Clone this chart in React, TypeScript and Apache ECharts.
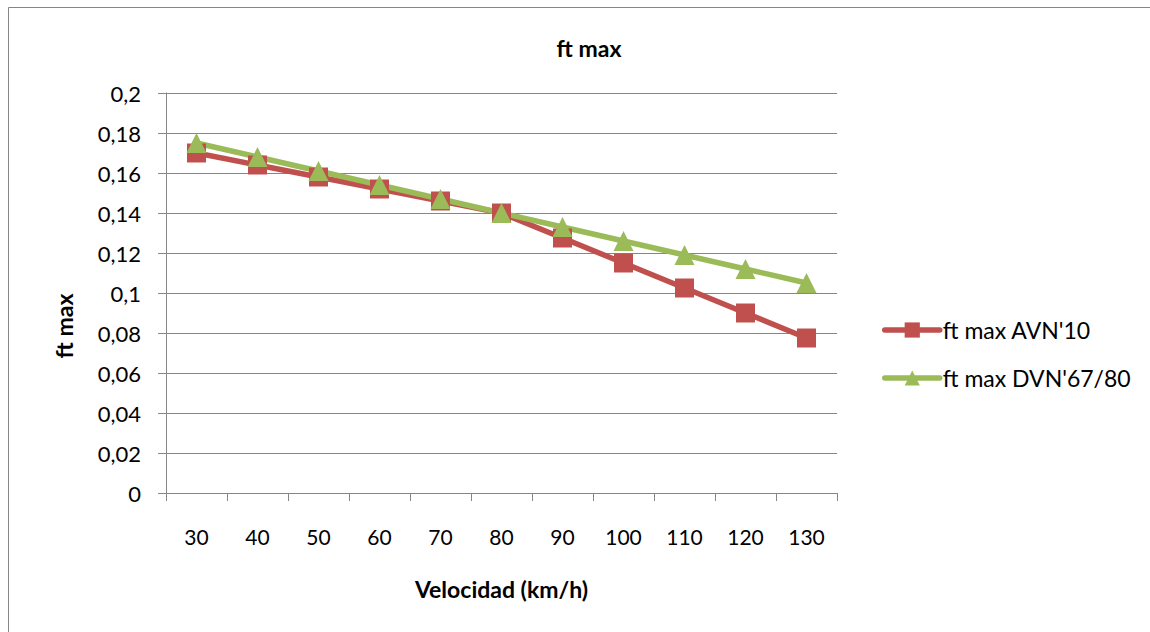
import React, { useEffect, useRef } from "react";
import * as echarts from "echarts";

const categories = ["30", "40", "50", "60", "70", "80", "90", "100", "110", "120", "130"];
const avn10 = [0.17, 0.164, 0.158, 0.152, 0.146, 0.14, 0.1275, 0.115, 0.1025, 0.09, 0.0775];
const dvn6780 = [0.175, 0.168, 0.161, 0.154, 0.147, 0.14, 0.133, 0.126, 0.119, 0.112, 0.105];
const seriesNames = ["ft max AVN'10", "ft max DVN'67/80"];
const titleText = "ft max";
const yAxisTitle = "ft max";
const xAxisTitle = "Velocidad (km/h)";

const FONT = "Lato, 'Open Sans', sans-serif";

export default function App() {
  const ref = useRef<HTMLDivElement>(null);
  useEffect(() => {
    if (!ref.current) return;
    const chart = echarts.init(ref.current, undefined, { renderer: "svg" });
    chart.setOption({
      animation: false,
      backgroundColor: "#ffffff",
      textStyle: { fontFamily: FONT },
      title: {
        text: titleText,
        left: 584,
        top: 31,
        textAlign: "center",
        textStyle: { fontFamily: FONT, fontSize: 23, fontWeight: "bold", color: "#000" },
      },
      graphic: [
        {
          type: "rect",
          shape: { x: 8.5, y: 7.5, width: 1200, height: 700 },
          style: { fill: "none", stroke: "#868686", lineWidth: 1 },
          silent: true,
        },
        {
          type: "text",
          x: 64,
          y: 326,
          rotation: Math.PI / 2,
          style: {
            text: yAxisTitle,
            fontFamily: FONT,
            fontSize: 23,
            fontWeight: "bold",
            fill: "#000",
            align: "center",
            verticalAlign: "middle",
          },
          silent: true,
        },
      ],
      legend: {
        orient: "vertical",
        left: 877,
        top: 313,
        itemGap: 24,
        itemWidth: 55,
        itemHeight: 19,
        data: seriesNames,
        lineStyle: { width: 5.5, cap: "round" },
        textStyle: {
          fontFamily: FONT,
          fontSize: 23,
          lineHeight: 24,
          color: "#000",
          padding: [0, 0, 0, -2],
        },
      },
      grid: { left: 166, right: 313, top: 93, bottom: 139 },
      xAxis: {
        type: "category",
        data: categories,
        boundaryGap: true,
        name: xAxisTitle,
        nameLocation: "middle",
        nameGap: 84,
        nameTextStyle: { fontFamily: FONT, fontSize: 23, fontWeight: "bold", color: "#000" },
        axisLine: { lineStyle: { color: "#868686", width: 1 } },
        axisTick: { show: true, length: 8, interval: 0, lineStyle: { color: "#868686" } },
        axisLabel: { fontFamily: FONT, fontSize: 21, color: "#000", margin: 33, interval: 0 },
      },
      yAxis: {
        type: "value",
        min: 0,
        max: 0.2,
        interval: 0.02,
        axisLine: { show: true, lineStyle: { color: "#868686", width: 1 } },
        axisTick: { show: true, length: 8, lineStyle: { color: "#868686" } },
        splitLine: { show: true, lineStyle: { color: "#868686", width: 1 } },
        axisLabel: {
          fontFamily: FONT,
          fontSize: 22,
          color: "#000",
          margin: 25,
          formatter: (v: number) => String(Number(v.toFixed(2))).replace(".", ","),
        },
      },
      series: [
        {
          name: seriesNames[0],
          type: "line",
          data: avn10,
          symbol: "rect",
          symbolSize: 19,
          color: "#C0504D",
          lineStyle: { width: 5.5, color: "#C0504D", cap: "round" },
          itemStyle: { color: "#C0504D" },
        },
        {
          name: seriesNames[1],
          type: "line",
          data: dvn6780,
          symbol: "triangle",
          symbolSize: 20,
          color: "#9BBB59",
          lineStyle: { width: 5.5, color: "#9BBB59", cap: "round" },
          itemStyle: { color: "#9BBB59" },
        },
      ],
    });
    return () => chart.dispose();
  }, []);
  return (
    <div
      ref={ref}
      style={{ position: "absolute", left: 0, top: 0, width: 1150, height: 632 }}
    />
  );
}
